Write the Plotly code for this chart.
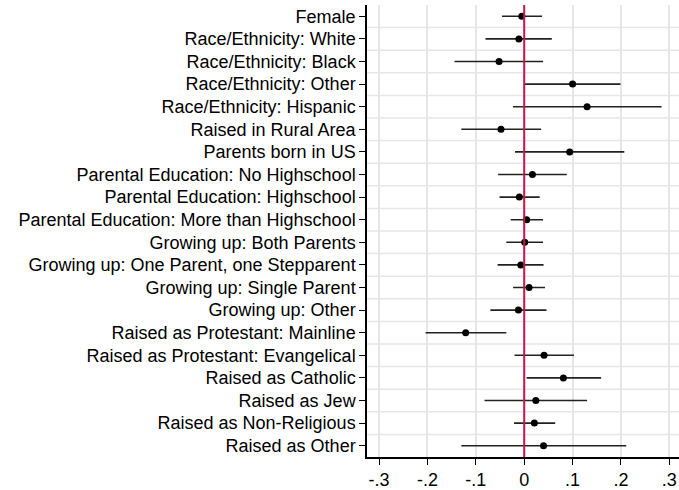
import plotly.graph_objects as go

labels = [
    "Female",
    "Race/Ethnicity: White",
    "Race/Ethnicity: Black",
    "Race/Ethnicity: Other",
    "Race/Ethnicity: Hispanic",
    "Raised in Rural Area",
    "Parents born in US",
    "Parental Education: No Highschool",
    "Parental Education: Highschool",
    "Parental Education: More than Highschool",
    "Growing up: Both Parents",
    "Growing up: One Parent, one Stepparent",
    "Growing up: Single Parent",
    "Growing up: Other",
    "Raised as Protestant: Mainline",
    "Raised as Protestant: Evangelical",
    "Raised as Catholic",
    "Raised as Jew",
    "Raised as Non-Religious",
    "Raised as Other",
]
coef = [-0.005, -0.011, -0.052, 0.100, 0.130, -0.048, 0.094, 0.017, -0.010, 0.005,
        0.001, -0.007, 0.010, -0.012, -0.121, 0.041, 0.081, 0.024, 0.021, 0.040]
ci_lo = [-0.046, -0.080, -0.144, 0.001, -0.023, -0.130, -0.019, -0.054, -0.051, -0.028,
         -0.037, -0.055, -0.023, -0.070, -0.204, -0.020, 0.005, -0.082, -0.021, -0.130]
ci_hi = [0.037, 0.057, 0.039, 0.199, 0.284, 0.035, 0.207, 0.088, 0.032, 0.039,
         0.039, 0.040, 0.043, 0.046, -0.037, 0.103, 0.159, 0.130, 0.064, 0.211]
xticks = [-0.3, -0.2, -0.1, 0, 0.1, 0.2, 0.3]
xticktext = ["-.3", "-.2", "-.1", "0", ".1", ".2", ".3"]

n = len(labels)
ypos = list(range(1, n + 1))

fig = go.Figure()

# CI lines
xs, ys = [], []
for y, lo, hi in zip(ypos, ci_lo, ci_hi):
    xs += [lo, hi, None]
    ys += [y, y, None]
fig.add_trace(go.Scatter(x=xs, y=ys, mode="lines",
                         line=dict(color="#222222", width=1.6),
                         hoverinfo="skip", showlegend=False))

# point estimates
fig.add_trace(go.Scatter(x=coef, y=ypos, mode="markers",
                         marker=dict(color="black", size=7),
                         showlegend=False))

fig.add_shape(type="line", x0=0, x1=0, y0=0, y1=1, xref="x", yref="paper",
              line=dict(color="#c8184a", width=2), layer="above")

# horizontal gridlines between rows
for k in range(1, n):
    fig.add_shape(type="line", x0=0, x1=1, xref="paper", y0=k + 0.5, y1=k + 0.5,
                  yref="y", line=dict(color="#e6e6e6", width=1.5), layer="below")

fig.update_layout(
    width=679, height=490,
    margin=dict(l=367, r=0, t=5, b=29),
    paper_bgcolor="white", plot_bgcolor="white",
    font=dict(family="Liberation Sans, Arial, sans-serif", size=18, color="black"),
    xaxis=dict(range=[-0.325, 0.32], tickvals=xticks, ticktext=xticktext,
               showgrid=True, gridcolor="#e6e6e6", gridwidth=1.5,
               zeroline=False, showline=True, linecolor="black", linewidth=1.5,
               ticks="outside", ticklen=6, tickcolor="black", tickwidth=1,
               tickfont=dict(size=18)),
    yaxis=dict(range=[n + 0.5, 0.5], tickvals=ypos, ticktext=labels,
               showgrid=False, zeroline=False, showline=True, linecolor="black",
               linewidth=1.5, ticks="outside", ticklen=6, tickcolor="black",
               tickwidth=1, tickfont=dict(size=18)),
)

fig.write_html("out.html")
